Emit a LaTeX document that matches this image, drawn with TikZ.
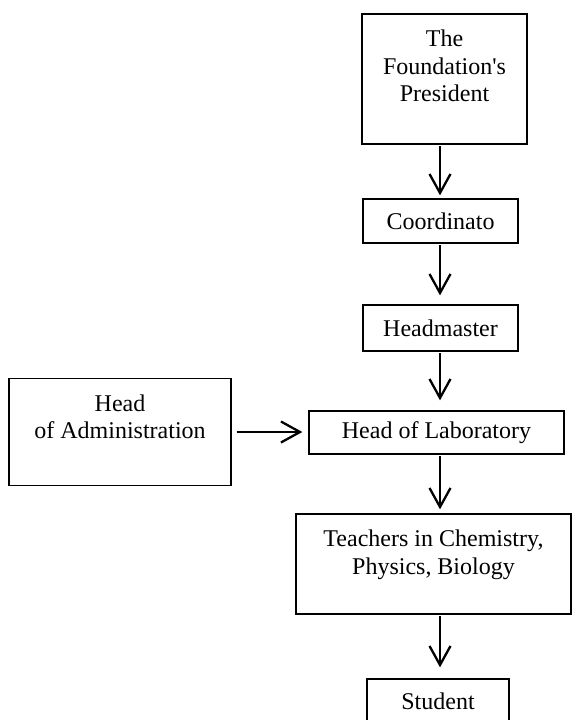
\documentclass[tikz,border=0pt]{standalone}
\usepackage{fontspec}
\setmainfont{Liberation Serif}
\usetikzlibrary{positioning,arrows.meta}
\newcommand{\toptext}[3]{\parbox[c][#2][t]{#1}{\centering\vspace*{16pt}#3}}
\tikzset{
  box/.style={draw, line width=1.3pt, inner sep=0pt, align=center},
  arr/.style={-{Straight Barb[length=19pt,width=21pt]}, line width=2.3pt, shorten >=6pt, shorten <=1.5pt}
}
\begin{document}
\begin{tikzpicture}[x=1pt, y=-1pt, every node/.style={font=\fontsize{24}{27.5}\selectfont}]
\useasboundingbox (0,0) rectangle (572,720);

\node[box, minimum width=165pt, minimum height=130pt] (P) at (444.5,79) {\toptext{160pt}{130pt}{The\\ Foundation\textquotesingle s\\ President}};
\node[box, minimum width=155pt, minimum height=44pt] (C) at (440.5,221) {Coordinato};
\node[box, minimum width=155pt, minimum height=46pt] (H) at (440.5,328) {Headmaster};
\node[box, minimum width=255pt, minimum height=43pt] (L) at (436.5,432.5) {Head of Laboratory};
\node[box, minimum width=222pt, minimum height=107pt] (A) at (120,432) {\toptext{215pt}{107pt}{Head\\ of Administration}};
\node[box, minimum width=275pt, minimum height=100pt] (T) at (433.5,564) {\toptext{268pt}{100pt}{Teachers in Chemistry,\\ Physics, Biology}};
\node[box, minimum width=142pt, minimum height=44pt] (S) at (438,701) {Student};

\coordinate (axis) at (440,0);

\draw[arr, shorten >=3pt] (P.south -| axis) -- (C.north -| axis);
\draw[arr, shorten >=9pt] (C.south -| axis) -- (H.north -| axis);
\draw[arr, shorten >=10pt] (H.south -| axis) -- (L.north -| axis);
\draw[arr, shorten >=4pt] (L.south -| axis) -- (T.north -| axis);
\draw[arr, shorten >=11pt] (T.south -| axis) -- (S.north -| axis);
\draw[arr, shorten <=5pt, shorten >=6pt] (A.east) -- (L.west |- A.east);
\end{tikzpicture}
\end{document}
